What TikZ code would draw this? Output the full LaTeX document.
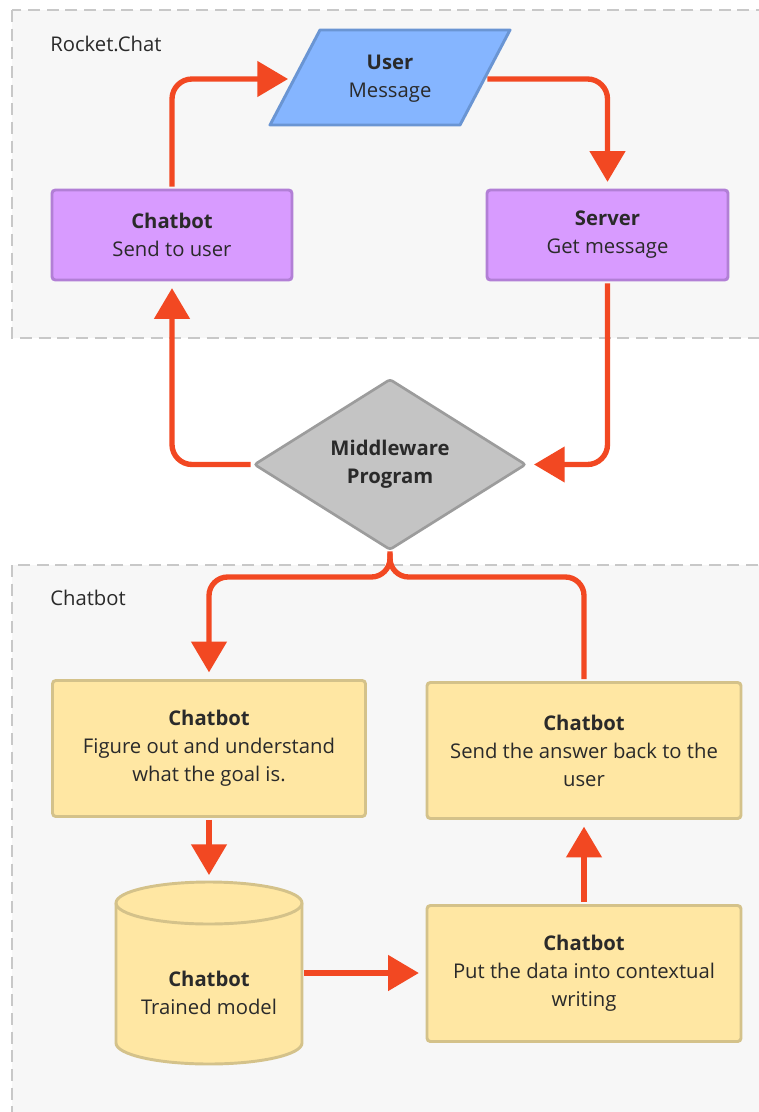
\documentclass[tikz,border=0pt]{standalone}
\usepackage{fontspec}
\setmainfont{Open Sans}
\usetikzlibrary{arrows.meta,shapes.geometric}
\definecolor{arrowc}{HTML}{F24822}
\definecolor{textc}{HTML}{2A2A2A}
\definecolor{dashc}{HTML}{C8C8C8}
\definecolor{contf}{HTML}{F7F7F7}
\definecolor{violetf}{HTML}{D89BFF}
\definecolor{violetd}{HTML}{B27FD6}
\definecolor{bluef}{HTML}{85B5FF}
\definecolor{blued}{HTML}{6A95D3}
\definecolor{yellowf}{HTML}{FFE7A3}
\definecolor{yellowd}{HTML}{D4C28A}
\definecolor{grayf}{HTML}{C4C4C4}
\definecolor{grayd}{HTML}{9C9C9C}
\begin{document}
\begin{tikzpicture}[x=0.75pt,y=-0.75pt,
  txt/.style={font=\fontsize{15.2}{21}\selectfont, text=textc, align=center, inner sep=0pt},
  box/.style={txt, draw, line width=2.2pt, rounded corners=2.5pt},
  container/.style={draw=dashc, fill=contf, line width=2pt, dash pattern=on 9pt off 5pt},
  flow/.style={draw=arrowc, line width=4pt, rounded corners=15pt, -{Triangle[length=23pt,width=26pt]}, shorten >=5pt, shorten <=1.5pt},
  flowplain/.style={draw=arrowc, line width=4pt, rounded corners=12pt, shorten <=1.5pt}
]
\useasboundingbox (0,0) rectangle (759,1112);
\clip (0,0) rectangle (759,1112);
\fill[white] (0,0) rectangle (759,1112);

% containers
\draw[container] (12,10) rectangle (790,338);
\draw[container] (12,565) rectangle (790,1140);
\node[txt, anchor=west] (lblrc) at (50,44) {Rocket.Chat};
\node[txt, anchor=west] (lblcb) at (50,598) {Chatbot};

% user parallelogram
\draw[fill=bluef, draw=blued, line width=2.2pt, line join=round] (320,30) -- (510,30) -- (460,125) -- (270,125) -- cycle;
\node[txt, minimum width=142.5pt, minimum height=71.25pt] (user) at (390,79) {\textbf{User}\\Message};

% rocket chat boxes
\node[box, fill=violetf, draw=violetd, minimum width=180pt, minimum height=67.5pt] (sendu) at (172,235) {\textbf{Chatbot}\\Send to user};
\node[box, fill=violetf, draw=violetd, minimum width=180.75pt, minimum height=67.5pt] (server) at (607.5,235) {\textbf{Server}\\Get message};

% diamond
\node[txt, diamond, draw=grayd, fill=grayf, line width=2pt, rounded corners=2pt, minimum width=204pt, minimum height=128.25pt, aspect=1.59] (mw) at (390,464.5) {\textbf{Middleware}\\\textbf{Program}};

% chatbot boxes
\node[box, fill=yellowf, draw=yellowd, minimum width=234.75pt, minimum height=102pt] (figure) at (209,748.5) {\textbf{Chatbot}\\Figure out and understand\\what the goal is.};
\node[box, fill=yellowf, draw=yellowd, minimum width=235.5pt, minimum height=102pt] (answer) at (584,750.5) {\textbf{Chatbot}\\Send the answer back to the\\user};
\node[box, fill=yellowf, draw=yellowd, minimum width=235.5pt, minimum height=102pt] (putdata) at (584,973.5) {\textbf{Chatbot}\\Put the data into contextual\\writing};

% cylinder
\draw[fill=yellowf, draw=yellowd, line width=2.2pt] (116,903) -- (116,1043) arc[start angle=180, end angle=0, x radius=93, y radius=21] -- (302,903) arc[start angle=0, end angle=-180, x radius=93, y radius=21] -- cycle;
\draw[draw=yellowd, line width=2.2pt] (116,903) arc[start angle=180, end angle=0, x radius=93, y radius=21];
\node[minimum width=139.5pt, minimum height=136.5pt, inner sep=0pt] (model) at (209,973) {};
\node[txt] (modeltxt) at (209,993) {\textbf{Chatbot}\\Trained model};

% connectors
\coordinate (j) at (390,577);
\draw[flow] (sendu.north) |- (user.west);
\draw[flow] (user.east) -| (server.north);
\draw[flow] (server.south) |- (mw.east);
\draw[flow] (mw.west) -| (sendu.south);
\draw[flow, rounded corners=14pt] (mw.south) -- (j) -| (figure.north);
\draw[flowplain, rounded corners=14pt] (answer.north) |- (j) -- (mw.south);
\draw[flow] (figure.south) -- (model.north);
\draw[flow] (model.east) -- (model.east -| putdata.west);
\draw[flow] (putdata.north) -- (answer.south);
\end{tikzpicture}
\end{document}
